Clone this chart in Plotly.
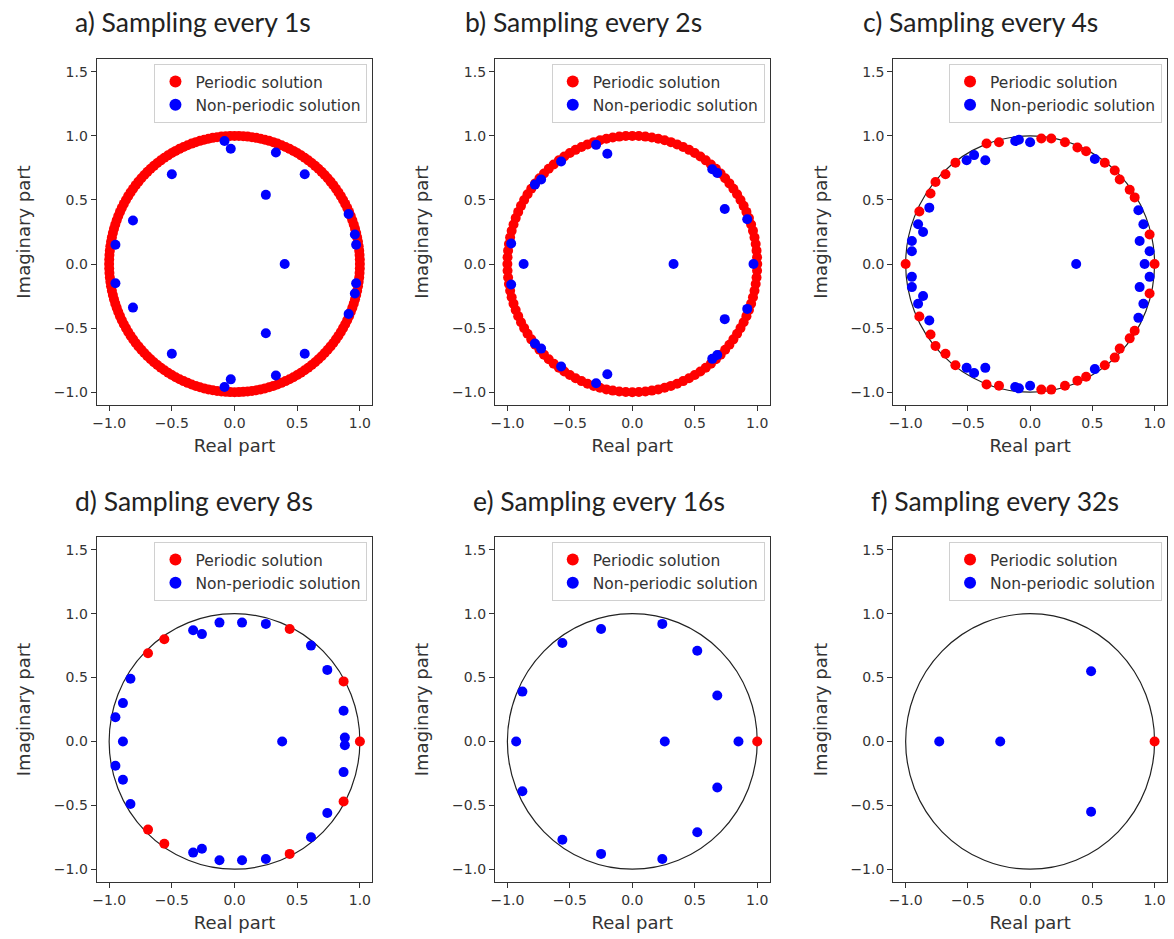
import numpy as np
import plotly.graph_objects as go

# ---------------- data ----------------
panel_titles = ["a) Sampling every 1s", "b) Sampling every 2s", "c) Sampling every 4s",
                "d) Sampling every 8s", "e) Sampling every 16s", "f) Sampling every 32s"]
legend_names = ["Periodic solution", "Non-periodic solution"]
x_label = "Real part"
y_label = "Imaginary part"
xtick_vals = [-1.0, -0.5, 0.0, 0.5, 1.0]
xtick_text = ["−1.0", "−0.5", "0.0", "0.5", "1.0"]
ytick_vals = [-1.0, -0.5, 0.0, 0.5, 1.0, 1.5]
ytick_text = ["−1.0", "−0.5", "0.0", "0.5", "1.0", "1.5"]

# a) dense ring of periodic eigenvalues (angles in degrees on the unit circle)
a_red_angle_deg = [0, 2, 4, 6, 8, 10, 12, 14, 16, 18, 20, 22, 24, 26, 28, 30, 32, 34, 36, 38,
                   40, 42, 44, 46, 48, 50, 52, 54, 56, 58, 60, 62, 64, 66, 68, 70, 72, 74, 76, 78,
                   80, 82, 84, 86, 88, 90, 92, 94, 96, 98, 100, 102, 104, 106, 108, 110, 112, 114, 116, 118,
                   120, 122, 124, 126, 128, 130, 132, 134, 136, 138, 140, 142, 144, 146, 148, 150, 152, 154, 156, 158,
                   160, 162, 164, 166, 168, 170, 172, 174, 176, 178, 180, 182, 184, 186, 188, 190, 192, 194, 196, 198,
                   200, 202, 204, 206, 208, 210, 212, 214, 216, 218, 220, 222, 224, 226, 228, 230, 232, 234, 236, 238,
                   240, 242, 244, 246, 248, 250, 252, 254, 256, 258, 260, 262, 264, 266, 268, 270, 272, 274, 276, 278,
                   280, 282, 284, 286, 288, 290, 292, 294, 296, 298, 300, 302, 304, 306, 308, 310, 312, 314, 316, 318,
                   320, 322, 324, 326, 328, 330, 332, 334, 336, 338, 340, 342, 344, 346, 348, 350, 352, 354, 356, 358]
a_blue_real = [-0.08, -0.03, 0.33, 0.56, -0.50, 0.25, -0.81, 0.91, 0.96, 0.97, -0.95, 0.40,
               -0.95, 0.97, 0.96, 0.91, -0.81, 0.25, -0.50, 0.56, 0.33, -0.03, -0.08]
a_blue_imag = [0.96, 0.90, 0.87, 0.70, 0.70, 0.54, 0.34, 0.39, 0.23, 0.15, 0.15, 0.0,
               -0.15, -0.15, -0.23, -0.39, -0.34, -0.54, -0.70, -0.70, -0.87, -0.90, -0.96]

# b)
b_red_angle_deg = [0, 3, 6, 9, 12, 15, 18, 21, 24, 27, 30, 33, 36, 39, 42, 45, 48, 51, 54, 57,
                   60, 63, 66, 69, 72, 75, 78, 81, 84, 87, 90, 93, 96, 99, 102, 105, 108, 111, 114, 117,
                   120, 123, 126, 129, 132, 135, 138, 141, 144, 147, 150, 153, 156, 159, 162, 165, 168, 171, 174, 177,
                   180, 183, 186, 189, 192, 195, 198, 201, 204, 207, 210, 213, 216, 219, 222, 225, 228, 231, 234, 237,
                   240, 243, 246, 249, 252, 255, 258, 261, 264, 267, 270, 273, 276, 279, 282, 285, 288, 291, 294, 297,
                   300, 303, 306, 309, 312, 315, 318, 321, 324, 327, 330, 333, 336, 339, 342, 345, 348, 351, 354, 357]
b_blue_real = [-0.29, -0.20, -0.57, -0.73, -0.78, 0.64, 0.68, 0.74, 0.92, -0.97, -0.87, 0.33, 0.97,
               -0.97, 0.92, 0.74, -0.78, -0.73, 0.64, 0.68, -0.57, -0.20, -0.29]
b_blue_imag = [0.93, 0.86, 0.80, 0.66, 0.62, 0.74, 0.71, 0.43, 0.35, 0.16, 0.0, 0.0, 0.0,
               -0.16, -0.35, -0.43, -0.62, -0.66, -0.74, -0.71, -0.80, -0.86, -0.93]

# c)
c_red_real = [0.09, 0.17, 0.28, 0.38, 0.45, 0.60, 0.68, 0.72, 0.80, 0.84, 0.96, 1.00,
              0.96, 0.84, 0.80, 0.72, 0.68, 0.60, 0.45, 0.38, 0.28, 0.17, 0.09,
              -0.25, -0.35, -0.60, -0.68, -0.76, -0.80, -0.89, -1.00,
              -0.89, -0.80, -0.76, -0.68, -0.60, -0.35, -0.25]
c_red_imag = [0.98, 0.98, 0.95, 0.91, 0.88, 0.79, 0.73, 0.66, 0.58, 0.52, 0.23, 0.0,
              -0.23, -0.52, -0.58, -0.66, -0.73, -0.79, -0.88, -0.91, -0.95, -0.98, -0.98,
              0.95, 0.94, 0.79, 0.70, 0.64, 0.55, 0.41, 0.0,
              -0.41, -0.55, -0.64, -0.70, -0.79, -0.94, -0.95]
c_blue_real = [-0.12, -0.09, 0.00, -0.51, -0.45, -0.36, 0.52, -0.81, -0.90, -0.86, -0.95, -0.95,
               0.87, 0.91, 0.88, 0.96, 0.92, 0.37,
               -0.12, -0.09, 0.00, -0.51, -0.45, -0.36, 0.52, -0.81, -0.90, -0.86, -0.95, -0.95,
               0.87, 0.91, 0.88, 0.96]
c_blue_imag = [0.96, 0.97, 0.95, 0.81, 0.85, 0.81, 0.82, 0.44, 0.31, 0.25, 0.18, 0.10,
               0.42, 0.31, 0.18, 0.10, 0.0, 0.0,
               -0.96, -0.97, -0.95, -0.81, -0.85, -0.81, -0.82, -0.44, -0.31, -0.25, -0.18, -0.10,
               -0.42, -0.31, -0.18, -0.10]

# d)
d_red_real = [0.44, 0.87, 1.00, 0.87, 0.44, -0.56, -0.69, -0.69, -0.56]
d_red_imag = [0.88, 0.47, 0.0, -0.47, -0.88, 0.80, 0.69, -0.69, -0.80]
d_blue_real = [-0.33, -0.26, -0.12, 0.06, 0.25, 0.61, 0.74, 0.87, 0.88, -0.83, -0.89, -0.95,
               0.38, -0.89,
               -0.33, -0.26, -0.12, 0.06, 0.25, 0.61, 0.74, 0.87, 0.88, -0.83, -0.89, -0.95]
d_blue_imag = [0.87, 0.84, 0.93, 0.93, 0.92, 0.75, 0.56, 0.24, 0.03, 0.49, 0.30, 0.19,
               0.0, 0.0,
               -0.87, -0.84, -0.93, -0.93, -0.92, -0.75, -0.56, -0.24, -0.03, -0.49, -0.30, -0.19]

# e)
e_red_real = [1.0]
e_red_imag = [0.0]
e_blue_real = [0.24, -0.25, -0.56, 0.52, -0.88, 0.68, -0.93, 0.26, 0.85,
               -0.88, 0.68, 0.52, -0.56, -0.25, 0.24]
e_blue_imag = [0.92, 0.88, 0.77, 0.71, 0.39, 0.36, 0.0, 0.0, 0.0,
               -0.39, -0.36, -0.71, -0.77, -0.88, -0.92]

# f)
f_red_real = [1.0]
f_red_imag = [0.0]
f_blue_real = [-0.73, -0.24, 0.49, 0.49]
f_blue_imag = [0.0, 0.0, 0.55, -0.55]

a_red_real = list(np.cos(np.radians(a_red_angle_deg)))
a_red_imag = list(np.sin(np.radians(a_red_angle_deg)))
b_red_real = list(np.cos(np.radians(b_red_angle_deg)))
b_red_imag = list(np.sin(np.radians(b_red_angle_deg)))

panels = [
    (a_red_real, a_red_imag, a_blue_real, a_blue_imag),
    (b_red_real, b_red_imag, b_blue_real, b_blue_imag),
    (c_red_real, c_red_imag, c_blue_real, c_blue_imag),
    (d_red_real, d_red_imag, d_blue_real, d_blue_imag),
    (e_red_real, e_red_imag, e_blue_real, e_blue_imag),
    (f_red_real, f_red_imag, f_blue_real, f_blue_imag),
]

# ---------------- layout ----------------
W, H = 1174, 939
col_px = [(92, 369), (492, 768), (892, 1167)]
row_px = [(59, 405), (537, 882)]
title_px = [(68, 22), (460, 22), (860, 22), (68, 501), (468, 501), (868, 501)]

TICK_FONT = dict(family="DejaVu Sans", size=14, color="#333333")
LABEL_FONT = dict(family="DejaVu Sans", size=18, color="#333333")

fig = go.Figure()
layout = dict(width=W, height=H, margin=dict(l=0, r=0, t=0, b=0),
              paper_bgcolor="white", plot_bgcolor="white", showlegend=True,
              shapes=[], annotations=[])

for i, (rr, ri, br, bi) in enumerate(panels):
    k = i + 1
    sfx = "" if k == 1 else str(k)
    leg = "legend" if k == 1 else f"legend{k}"
    r, c = divmod(i, 3)
    x0p, x1p = col_px[c]
    y0p, y1p = row_px[r]

    fig.add_trace(go.Scatter(x=rr, y=ri, mode="markers", name=legend_names[0],
                             marker=dict(color="#ff0000", size=10, line=dict(width=0)),
                             xaxis=f"x{sfx}", yaxis=f"y{sfx}", legend=leg))
    fig.add_trace(go.Scatter(x=br, y=bi, mode="markers", name=legend_names[1],
                             marker=dict(color="#0000ff", size=10, line=dict(width=0)),
                             xaxis=f"x{sfx}", yaxis=f"y{sfx}", legend=leg))

    axis_common = dict(showline=True, mirror=True, linecolor="#333333", linewidth=1,
                       ticks="outside", ticklen=5, tickcolor="#333333", tickwidth=1,
                       showgrid=False, zeroline=False, tickfont=TICK_FONT)
    layout[f"xaxis{sfx}"] = dict(axis_common, domain=[x0p / W, x1p / W], range=[-1.1, 1.1],
                                 anchor=f"y{sfx}", tickvals=xtick_vals, ticktext=xtick_text,
                                 title=dict(text=x_label, font=LABEL_FONT, standoff=9))
    layout[f"yaxis{sfx}"] = dict(axis_common, domain=[1 - y1p / H, 1 - y0p / H], range=[-1.1, 1.6],
                                 anchor=f"x{sfx}", tickvals=ytick_vals, ticktext=ytick_text,
                                 title=dict(text=y_label, font=LABEL_FONT, standoff=18))
    layout[leg] = dict(x=(x1p - 5) / W, xanchor="right", y=1 - (y0p + 5) / H, yanchor="top",
                       xref="paper", yref="paper",
                       bgcolor="rgba(255,255,255,0.85)", bordercolor="#d0d0d0", borderwidth=1,
                       font=dict(family="DejaVu Sans", size=15.5, color="#333333"),
                       itemsizing="constant", tracegroupgap=0)
    layout["shapes"].append(dict(type="circle", xref=f"x{sfx}", yref=f"y{sfx}",
                                 x0=-1, y0=-1, x1=1, y1=1, layer="below",
                                 line=dict(color="#222222", width=1.2)))
    tx, ty = title_px[i]
    layout["annotations"].append(dict(text=panel_titles[i], xref="paper", yref="paper",
                                      x=tx / W, y=1 - ty / H, xanchor="left", yanchor="middle",
                                      showarrow=False,
                                      font=dict(family="Lato", size=26.5, color="#222222")))

fig.update_layout(**layout)
fig.write_html("out.html")
